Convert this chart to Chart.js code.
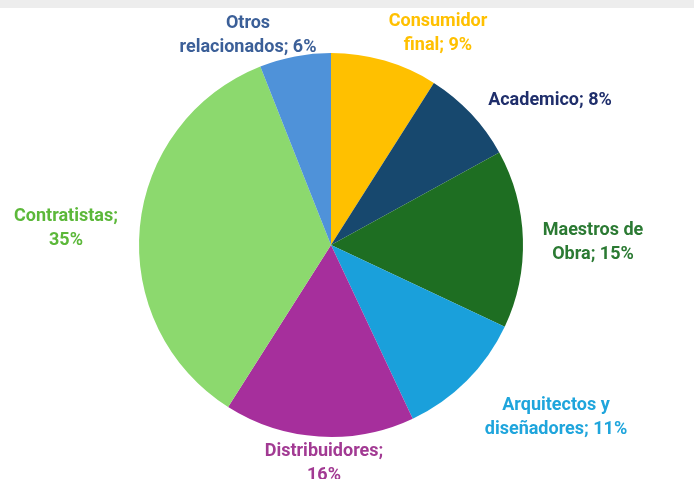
<!DOCTYPE html>
<html>
<head>
<meta charset="utf-8">
<script src="https://cdn.jsdelivr.net/npm/chart.js@4"></script>
<style>
  html, body { margin: 0; padding: 0; background: #fff; }
  #wrap { position: relative; width: 694px; height: 479px; }
  #band { position: absolute; left: 0; top: 0; width: 694px; height: 8px; background: #ededed; }
  canvas { position: absolute; left: 0; top: 0; }
</style>
</head>
<body>
<div id="wrap">
  <div id="band"></div>
  <canvas id="chart" width="694" height="479"></canvas>
</div>
<script>
// segmentos de cliente, en orden horario desde las 12
const categorias = ['Consumidor final', 'Academico', 'Maestros de Obra', 'Arquitectos y diseñadores', 'Distribuidores', 'Contratistas', 'Otros relacionados'];
const porcentajes = [9, 8, 15, 11, 16, 35, 6];

// lineas de cada etiqueta (el valor se agrega al final)
const etiquetas = [
    ['Consumidor', 'final; '],
    ['Academico; '],
    ['Maestros de', 'Obra; '],
    ['Arquitectos y', 'diseñadores; '],
    ['Distribuidores;', ''],
    ['Contratistas;', ''],
    ['Otros', 'relacionados; ']
];

const coloresSector = ['#ffc000', '#17486e', '#1e6e22', '#1aa0db', '#a62f9c', '#8cd96e', '#4f92d9'];
const coloresTexto = ['#ffc000', '#1f2e6b', '#2b7a33', '#1fa5dc', '#a23a93', '#5cb83a', '#3b5f98'];

// desplazamiento del centro de cada etiqueta respecto al centro del pastel
const offsetEtiqueta = [[107, -212], [219, -145], [262, -3], [225, 172], [-7, 218], [-265, -17], [-83, -210]];

const etiquetasPlugin = {
    id: 'etiquetas',
    afterDatasetsDraw(chart) {
        const ctx = chart.ctx;
        const arcs = chart.getDatasetMeta(0).data;
        ctx.save();
        ctx.font = 'bold 18px Roboto';
        ctx.textAlign = 'center';
        ctx.textBaseline = 'middle';
        arcs.forEach((arc, i) => {
            const lineas = etiquetas[i].slice();
            const ultima = lineas.length - 1;
            lineas[ultima] = lineas[ultima] + porcentajes[i] + '%';
            const cx = arc.x + offsetEtiqueta[i][0];
            const cy = arc.y + offsetEtiqueta[i][1];
            const alto = 24;
            const y0 = cy - (lineas.length - 1) * alto / 2;
            ctx.fillStyle = coloresTexto[i];
            lineas.forEach((t, j) => ctx.fillText(t, cx, y0 + j * alto));
        });
        ctx.restore();
    }
};

new Chart(document.getElementById('chart'), {
    type: 'pie',
    data: {
        labels: categorias,
        datasets: [{
            data: porcentajes,
            backgroundColor: coloresSector,
            borderWidth: 0
        }]
    },
    options: {
        responsive: false,
        animation: false,
        layout: { padding: { top: 53, bottom: 42, left: 139, right: 171 } },
        plugins: {
            legend: { display: false },
            tooltip: { enabled: false }
        }
    },
    plugins: [etiquetasPlugin]
});
</script>
</body>
</html>
